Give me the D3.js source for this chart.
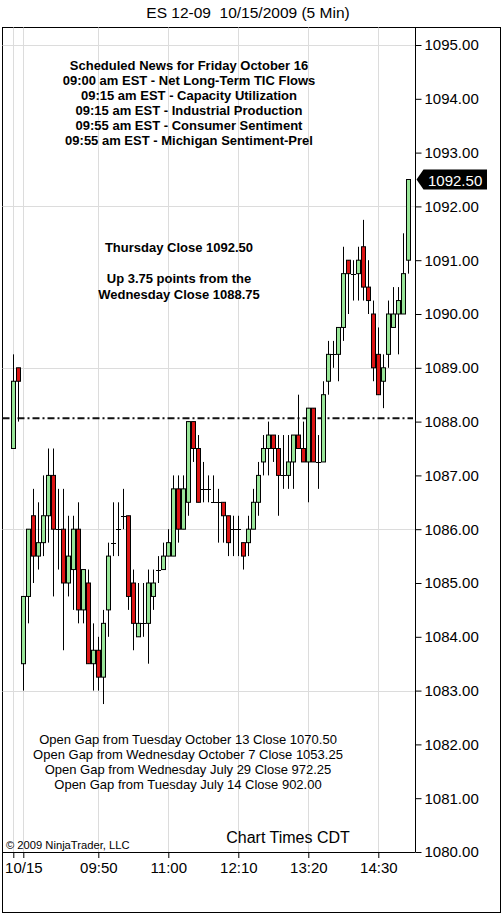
<!DOCTYPE html>
<html>
<head>
<meta charset="utf-8">
<script src="https://cdn.jsdelivr.net/npm/d3@7"></script>
<style>
  body { margin: 0; background: #fff; }
  svg text { font-family: Arial, "Liberation Sans", sans-serif; white-space: pre; }
</style>
</head>
<body>
<script>
// 5 min bars, 10/15/2009
const times = d3.range(80).map(i => {
  const m = 8 * 60 + 25 + i * 5;
  return String(Math.floor(m / 60)).padStart(2, '0') + ':' + String(m % 60).padStart(2, '0');
});
const opens = [1087.5, 1089, 1083.5, 1084.75, 1086.25, 1085.5, 1085.75, 1086.25, 1087, 1086,
  1086, 1085, 1085.25, 1086, 1084.5, 1085, 1083.5, 1083.75, 1083.25, 1084.5,
  1085.75, 1086, 1086.25, 1086.25, 1085, 1084, 1084.25, 1084.25, 1084.75, 1085.25,
  1085.25, 1085.5, 1085.5, 1086.75, 1086, 1086.5, 1088, 1087.5, 1086.75, 1086.75,
  1086.5, 1086.5, 1086.5, 1086.25, 1086, 1086, 1085.75, 1085.75, 1086, 1086.5,
  1087.25, 1087.5, 1087.75, 1087.5, 1087, 1087, 1087.25, 1087.75, 1087.5, 1087.25,
  1088.25, 1087.25, 1087.25, 1088.75, 1089.25, 1089.25, 1089.75, 1091, 1090.75, 1090.75,
  1091.25, 1090.5, 1090, 1089.25, 1088.75, 1089.25, 1089.75, 1090, 1090, 1091];
const highs = [1089.25, 1089, 1084.75, 1086, 1086.75, 1086.5, 1087, 1087.5, 1087.5, 1086.75,
  1086.75, 1086.25, 1086.25, 1086.5, 1085.25, 1085.25, 1084.25, 1084, 1084.5, 1085.75,
  1086.5, 1086.5, 1086.75, 1086.25, 1085.25, 1085, 1085, 1085.25, 1085.25, 1085.5,
  1085.75, 1086, 1087, 1087, 1087, 1088, 1088, 1087.75, 1087.25, 1087,
  1087, 1086.75, 1086.5, 1086.25, 1086.25, 1086.25, 1085.75, 1086.25, 1086.75, 1087.25,
  1087.75, 1088, 1087.75, 1087.75, 1087.75, 1087.75, 1087.75, 1088.5, 1088, 1088.25,
  1088.25, 1087.75, 1088.75, 1089.5, 1089.5, 1089.75, 1091.25, 1091, 1091, 1091.25,
  1091.75, 1091, 1090.25, 1089.75, 1089.25, 1090.25, 1090.5, 1090.5, 1091.5, 1092.5];
const lows = [1087.5, 1088, 1083, 1084.25, 1085, 1085.25, 1085.5, 1085.75, 1084.75, 1085.25,
  1083.75, 1084.75, 1084.5, 1084.25, 1084.25, 1083.5, 1083, 1083, 1082.75, 1084,
  1085.5, 1085.5, 1086, 1084.5, 1083.75, 1084, 1084, 1083.5, 1084.5, 1085,
  1085.25, 1085.5, 1085.5, 1085.75, 1086, 1086.25, 1087.25, 1086.5, 1086.5, 1086.5,
  1086.5, 1085.75, 1085.75, 1085.5, 1085.5, 1085.5, 1085.25, 1085.5, 1086, 1086.25,
  1087, 1087, 1087.25, 1086.25, 1086.75, 1086.75, 1086.75, 1087.5, 1087.25, 1086.5,
  1087.25, 1086.75, 1087.25, 1088.5, 1089, 1088.75, 1089.5, 1090, 1090.25, 1090.25,
  1090.25, 1090, 1088.75, 1088.5, 1088.25, 1089, 1089.75, 1089.25, 1090, 1090.75];
const closes = [1088.75, 1088.75, 1084.75, 1086, 1085.5, 1085.75, 1086.25, 1087, 1086, 1086,
  1085, 1085.5, 1086, 1084.5, 1085.25, 1083.5, 1083.75, 1083.25, 1084.25, 1085.5,
  1085.75, 1086, 1086.25, 1084.75, 1084.25, 1084.25, 1084.25, 1085, 1085, 1085.25,
  1085.5, 1085.75, 1086.75, 1086, 1086.75, 1088, 1087.5, 1086.5, 1086.75, 1086.75,
  1086.5, 1086.5, 1086.25, 1085.75, 1086, 1086, 1085.5, 1086, 1086.5, 1087,
  1087.5, 1087.75, 1087.5, 1087, 1087, 1087.25, 1087.75, 1087.5, 1087.25, 1088.25,
  1087.25, 1087.25, 1088.5, 1089.25, 1089.25, 1089.75, 1090.75, 1090.75, 1090.75, 1091,
  1090.5, 1090.25, 1089, 1088.5, 1089, 1090, 1090, 1090.25, 1090.75, 1092.5];

const yTicks = d3.range(1080, 1096);
const gridPrices = [1083, 1086, 1089, 1092, 1095];
const xTickTimes = ['08:25', '08:35', '09:50', '11:00', '12:10', '13:20', '14:30'];
const xTickLabels = ['', '10/15', '09:50', '11:00', '12:10', '13:20', '14:30'];
const refLevel = 1088.06;

const newsLines = ['Scheduled News for Friday October 16',
  '09:00 am EST - Net Long-Term TIC Flows',
  '09:15 am EST - Capacity Utilization',
  '09:15 am EST - Industrial Production',
  '09:55 am EST - Consumer Sentiment',
  '09:55 am EST - Michigan Sentiment-Prel'];
const closeLines = ['Thursday Close 1092.50', '', 'Up 3.75 points from the', 'Wednesday Close 1088.75'];
const gapLines = ['Open Gap from Tuesday October 13 Close 1070.50',
  'Open Gap from Wednesday October 7 Close 1053.25',
  'Open Gap from Wednesday July 29 Close 972.25',
  'Open Gap from Tuesday July 14 Close 902.00'];

const width = 502, height = 914;
const plot = { left: 2.5, right: 415.5, top: 27.5, bottom: 852 };

const bars = times.map((t, i) => ({ t, o: opens[i], h: highs[i], l: lows[i], c: closes[i] }));

const x = d3.scalePoint().domain(times).range([13.3, 408.3]);
const y = d3.scaleLinear().domain([1080, 1095]).range([852, 45]);

const svg = d3.select('body')
  .append('svg')
  .attr('width', width)
  .attr('height', height);

svg.append('text')
  .attr('x', 248)
  .attr('y', 18)
  .attr('text-anchor', 'middle')
  .style('font-size', '15.5px')
  .text('ES 12-09  10/15/2009 (5 Min)');

svg.append('rect')
  .attr('x', 2.5)
  .attr('y', 27.5)
  .attr('width', 498)
  .attr('height', 885)
  .attr('fill', 'white')
  .attr('stroke', 'black');

// grid
svg.append('g')
  .selectAll('line')
  .data(gridPrices)
  .enter()
  .append('line')
  .attr('x1', plot.left)
  .attr('x2', plot.right)
  .attr('y1', d => Math.round(y(d)) + 0.5)
  .attr('y2', d => Math.round(y(d)) + 0.5)
  .attr('stroke', '#dcdcdc');

svg.append('g')
  .selectAll('line')
  .data(xTickTimes)
  .enter()
  .append('line')
  .attr('x1', d => Math.round(x(d)) + 0.5)
  .attr('x2', d => Math.round(x(d)) + 0.5)
  .attr('y1', plot.top)
  .attr('y2', plot.bottom)
  .attr('stroke', '#dcdcdc');

// reference line
svg.append('line')
  .attr('x1', plot.left)
  .attr('x2', 413)
  .attr('y1', y(refLevel))
  .attr('y2', y(refLevel))
  .attr('stroke', '#111')
  .attr('stroke-width', 2)
  .attr('stroke-dasharray', '7,3,2,3');

// candles
const candle = svg.append('g')
  .selectAll('g')
  .data(bars)
  .enter()
  .append('g');

candle.append('line')
  .attr('x1', d => Math.round(x(d.t)) + 0.5)
  .attr('x2', d => Math.round(x(d.t)) + 0.5)
  .attr('y1', d => y(d.h))
  .attr('y2', d => y(d.l))
  .attr('stroke', 'black');

candle.filter(d => d.o !== d.c)
  .append('rect')
  .attr('x', d => Math.round(x(d.t)) - 1.5)
  .attr('y', d => y(Math.max(d.o, d.c)))
  .attr('width', 4)
  .attr('height', d => Math.abs(y(d.o) - y(d.c)))
  .attr('fill', d => d.c > d.o ? '#98e598' : '#dc1414')
  .attr('stroke', 'black');

candle.filter(d => d.o === d.c)
  .append('line')
  .attr('x1', d => Math.round(x(d.t)) - 2)
  .attr('x2', d => Math.round(x(d.t)) + 3)
  .attr('y1', d => Math.round(y(d.c)) + 0.5)
  .attr('y2', d => Math.round(y(d.c)) + 0.5)
  .attr('stroke', 'black');

// axes
const yAxis = d3.axisRight(y)
  .tickValues(yTicks)
  .tickFormat(d => d.toFixed(2))
  .tickSize(6)
  .tickSizeOuter(0)
  .tickPadding(3);

svg.append('g')
  .attr('transform', `translate(${plot.right}, 0)`)
  .call(yAxis)
  .call(g => g.select('.domain').remove())
  .call(g => g.selectAll('text').style('font-size', '15px').attr('font-family', null));

const xAxis = d3.axisBottom(x)
  .tickValues(xTickTimes)
  .tickFormat((d, i) => xTickLabels[i])
  .tickSize(6)
  .tickSizeOuter(0)
  .tickPadding(4);

svg.append('g')
  .attr('transform', `translate(0, ${plot.bottom})`)
  .call(xAxis)
  .call(g => g.select('.domain').remove())
  .call(g => g.selectAll('text').style('font-size', '15px').attr('font-family', null));

svg.append('line')
  .attr('x1', plot.right)
  .attr('x2', plot.right)
  .attr('y1', plot.top)
  .attr('y2', plot.bottom)
  .attr('stroke', 'black');

svg.append('line')
  .attr('x1', plot.left)
  .attr('x2', plot.right)
  .attr('y1', plot.bottom + 0.5)
  .attr('y2', plot.bottom + 0.5)
  .attr('stroke', 'black');

// last price marker
const last = closes[closes.length - 1];
const ly = y(last);
svg.append('path')
  .attr('d', `M${plot.right + 1},${ly} L${plot.right + 8},${ly - 10} L487,${ly - 10} L487,${ly + 10} L${plot.right + 8},${ly + 10} Z`)
  .attr('fill', 'black');
svg.append('text')
  .attr('x', 428)
  .attr('y', ly + 6)
  .attr('fill', 'white')
  .style('font-size', '15px')
  .text(last.toFixed(2));

// notes
svg.append('g')
  .selectAll('text')
  .data(newsLines)
  .enter()
  .append('text')
  .attr('x', 189)
  .attr('y', (d, i) => 70 + i * 15)
  .attr('text-anchor', 'middle')
  .style('font-size', '13px')
  .style('font-weight', 'bold')
  .text(d => d);

svg.append('g')
  .selectAll('text')
  .data(closeLines)
  .enter()
  .append('text')
  .attr('x', 179)
  .attr('y', (d, i) => 252 + i * 15.5)
  .attr('text-anchor', 'middle')
  .style('font-size', '13px')
  .style('font-weight', 'bold')
  .text(d => d);

svg.append('g')
  .selectAll('text')
  .data(gapLines)
  .enter()
  .append('text')
  .attr('x', 188)
  .attr('y', (d, i) => 744 + i * 15)
  .attr('text-anchor', 'middle')
  .style('font-size', '13px')
  .text(d => d);

svg.append('text')
  .attr('x', 288)
  .attr('y', 843)
  .attr('text-anchor', 'middle')
  .style('font-size', '16px')
  .text('Chart Times CDT');

svg.append('text')
  .attr('x', 6)
  .attr('y', 849)
  .style('font-size', '11.2px')
  .text('© 2009 NinjaTrader, LLC');
</script>
</body>
</html>
